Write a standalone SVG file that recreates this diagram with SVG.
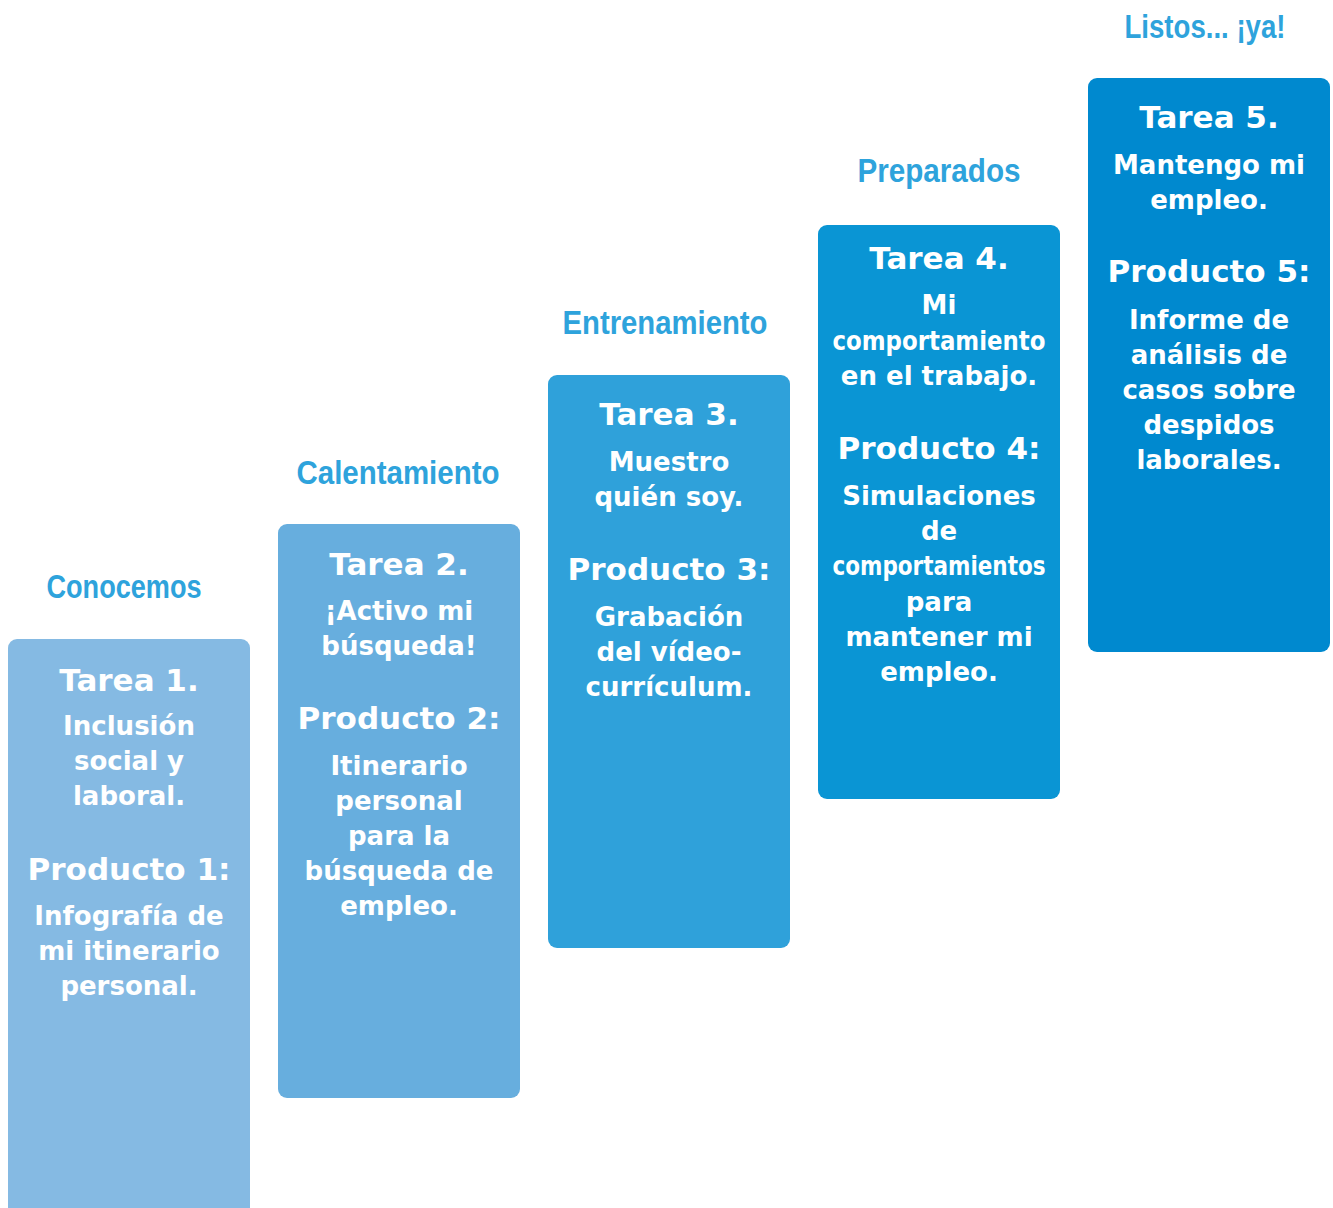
<svg xmlns="http://www.w3.org/2000/svg" width="1333" height="1208" viewBox="0 0 1333 1208">
<style>
.t{font-family:"Liberation Sans Narrow","Liberation Sans",sans-serif;font-weight:bold;font-size:34px;fill:#2EA3DC;text-anchor:middle}
.h{font-family:"DejaVu Sans",sans-serif;font-weight:bold;font-size:31px;fill:#fff;text-anchor:middle}
.b{font-family:"DejaVu Sans",sans-serif;font-weight:bold;font-size:26px;fill:#fff;text-anchor:middle}
</style>
<rect width="1333" height="1208" fill="#fff"/>
<g id="connectors"/>
<g id="step1">
<rect x="8" y="639" width="242" height="600" rx="9" fill="#85BAE3"/>
<text class="t" x="124" y="598" textLength="155" lengthAdjust="spacingAndGlyphs">Conocemos</text>
<text class="h" x="129" y="691">Tarea 1.</text>
<text class="b" x="129" y="735">Inclusión</text>
<text class="b" x="129" y="770">social y</text>
<text class="b" x="129" y="805">laboral.</text>
<text class="h" x="129" y="880">Producto 1:</text>
<text class="b" x="129" y="925">Infografía de</text>
<text class="b" x="129" y="960">mi itinerario</text>
<text class="b" x="129" y="995">personal.</text>
</g>
<g id="step2">
<rect x="278" y="524" width="242" height="574" rx="9" fill="#67AEDE"/>
<text class="t" x="398" y="484" textLength="203" lengthAdjust="spacingAndGlyphs">Calentamiento</text>
<text class="h" x="399" y="575">Tarea 2.</text>
<text class="b" x="399" y="620">¡Activo mi</text>
<text class="b" x="399" y="655">búsqueda!</text>
<text class="h" x="399" y="729">Producto 2:</text>
<text class="b" x="399" y="775">Itinerario</text>
<text class="b" x="399" y="810">personal</text>
<text class="b" x="399" y="845">para la</text>
<text class="b" x="399" y="880">búsqueda de</text>
<text class="b" x="399" y="915">empleo.</text>
</g>
<g id="step3">
<rect x="548" y="375" width="242" height="573" rx="9" fill="#2FA1DA"/>
<text class="t" x="665" y="334" textLength="205" lengthAdjust="spacingAndGlyphs">Entrenamiento</text>
<text class="h" x="669" y="425">Tarea 3.</text>
<text class="b" x="669" y="471">Muestro</text>
<text class="b" x="669" y="506">quién soy.</text>
<text class="h" x="669" y="580">Producto 3:</text>
<text class="b" x="669" y="626">Grabación</text>
<text class="b" x="669" y="661">del vídeo-</text>
<text class="b" x="669" y="696">currículum.</text>
</g>
<g id="step4">
<rect x="818" y="225" width="242" height="574" rx="9" fill="#0A95D4"/>
<text class="t" x="939" y="182" textLength="163" lengthAdjust="spacingAndGlyphs">Preparados</text>
<text class="h" x="939" y="269">Tarea 4.</text>
<text class="b" x="939" y="314">Mi</text>
<text class="b" x="939" y="350" textLength="213" lengthAdjust="spacingAndGlyphs">comportamiento</text>
<text class="b" x="939" y="385">en el trabajo.</text>
<text class="h" x="939" y="459">Producto 4:</text>
<text class="b" x="939" y="505">Simulaciones</text>
<text class="b" x="939" y="540">de</text>
<text class="b" x="939" y="575" textLength="213" lengthAdjust="spacingAndGlyphs">comportamientos</text>
<text class="b" x="939" y="611">para</text>
<text class="b" x="939" y="646">mantener mi</text>
<text class="b" x="939" y="681">empleo.</text>
</g>
<g id="step5">
<rect x="1088" y="78" width="242" height="574" rx="9" fill="#0089CF"/>
<text class="t" x="1205" y="38" textLength="161" lengthAdjust="spacingAndGlyphs">Listos... ¡ya!</text>
<text class="h" x="1209" y="128">Tarea 5.</text>
<text class="b" x="1209" y="174">Mantengo mi</text>
<text class="b" x="1209" y="209">empleo.</text>
<text class="h" x="1209" y="282">Producto 5:</text>
<text class="b" x="1209" y="329">Informe de</text>
<text class="b" x="1209" y="364">análisis de</text>
<text class="b" x="1209" y="399">casos sobre</text>
<text class="b" x="1209" y="434">despidos</text>
<text class="b" x="1209" y="469">laborales.</text>
</g>
</svg>
